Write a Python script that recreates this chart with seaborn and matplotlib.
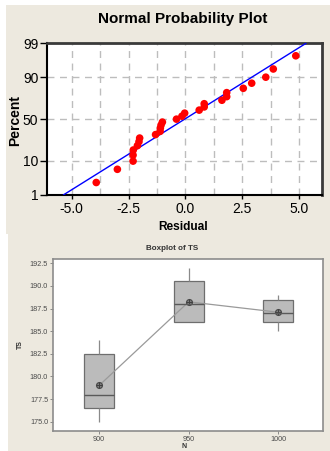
import numpy as np
import pandas as pd
import matplotlib
matplotlib.use("Agg")
import matplotlib.pyplot as plt
from matplotlib.patches import Rectangle
from matplotlib.ticker import FixedLocator, MultipleLocator, FormatStrFormatter
import seaborn as sns
from statistics import NormalDist

# ---------------- data ----------------
residuals = [-3.92, -2.99, -2.30, -2.30, -2.29, -2.11, -2.04, -2.01, -1.31,
             -1.11, -1.10, -1.07, -1.01, -0.39, -0.15, -0.03, 0.61, 0.83,
             0.83, 1.61, 1.82, 1.82, 2.55, 2.92, 3.54, 3.87, 4.86]
percents = [2.6, 6.2, 9.9, 13.5, 17.2, 20.8, 24.5, 28.1, 31.8, 35.4, 39.1,
            42.7, 46.4, 50.0, 53.6, 57.3, 60.9, 64.6, 68.2, 71.9, 75.5, 79.2,
            82.8, 86.5, 90.1, 93.8, 97.4]
fit_x = [-5.37, 5.31]
fit_p = [1, 99]
pct_ticks = [1, 10, 50, 90, 99]
res_ticks = [-5.0, -2.5, 0.0, 2.5, 5.0]

n_levels = ["900", "950", "1000"]
ts_900 = [175.0, 176.0, 176.5, 177.0, 178.0, 179.0, 182.5, 183.0, 184.0]
ts_950 = [186.0, 186.0, 186.0, 187.0, 188.0, 188.25, 190.5, 190.5, 192.0]
ts_1000 = [185.0, 185.5, 186.0, 186.5, 187.0, 187.9, 188.5, 188.5, 189.0]
ts_ticks = [175.0, 177.5, 180.0, 182.5, 185.0, 187.5, 190.0, 192.5]

# ---------------- style ----------------
sns.set_theme(style="white")
plt.rcParams["font.family"] = ["Liberation Sans", "DejaVu Sans"]
NARROW = ["Liberation Sans Narrow", "Liberation Sans", "DejaVu Sans"]
BEIGE = "#EDE9DF"

W, H = 330, 451
fig = plt.figure(figsize=(W / 100, H / 100), dpi=100, facecolor="white")
fig.add_artist(Rectangle((6 / W, (H - 234) / H), 1 - 6 / W, (234 - 5) / H,
                         transform=fig.transFigure, facecolor=BEIGE,
                         edgecolor="none", zorder=-10))
fig.add_artist(Rectangle((8 / W, 0), 1 - 8 / W, (H - 232) / H,
                         transform=fig.transFigure, facecolor=BEIGE,
                         edgecolor="none", zorder=-10))

def ax_rect(l, t, r, b):
    return [l / W, 1 - b / H, (r - l) / W, (b - t) / H]

# ---------------- normal probability plot ----------------
nd = NormalDist()
_ppf = np.vectorize(lambda v: nd.inv_cdf(v / 100.0), otypes=[float])
_cdf = np.vectorize(lambda v: nd.cdf(v) * 100.0, otypes=[float])

def fwd(p):
    p = np.clip(np.asarray(p, dtype=float), 1e-9, 100 - 1e-9)
    return _ppf(p)

def inv(z):
    return _cdf(np.asarray(z, dtype=float))

ax1 = fig.add_axes(ax_rect(46.7, 43.3, 321.7, 195))
ax1.set_facecolor("white")
df1 = pd.DataFrame({"Residual": residuals, "Percent": percents})
dfl = pd.DataFrame({"x": fit_x, "p": fit_p})
sns.lineplot(data=dfl, x="x", y="p", ax=ax1, color="#0000FF", lw=1.0,
             estimator=None, sort=False, zorder=3)
sns.scatterplot(data=df1, x="Residual", y="Percent", ax=ax1, color="#FF0000",
                s=30, edgecolor="none", zorder=4)
ax1.set_yscale("function", functions=(fwd, inv))
ax1.set_ylim(1, 99)
ax1.set_xlim(-6.1, 6.0)
ax1.yaxis.set_major_locator(FixedLocator(pct_ticks))
ax1.yaxis.set_minor_locator(FixedLocator([]))
ax1.set_yticklabels([str(t) for t in pct_ticks])
ax1.xaxis.set_major_locator(FixedLocator(res_ticks))
ax1.xaxis.set_minor_locator(MultipleLocator(1.25))
ax1.set_xticklabels([f"{t:.1f}" for t in res_ticks])
ax1.grid(True, which="both", axis="x", color="#BDBDBD", ls=(0, (5, 4)), lw=1.0)
ax1.grid(True, which="major", axis="y", color="#BDBDBD", ls=(0, (5, 4)), lw=1.0)
ax1.set_axisbelow(True)
ax1.tick_params(axis="y", which="major", direction="out", length=5, width=1,
                color="black", pad=1, labelsize=10, labelcolor="black", left=True)
ax1.tick_params(axis="x", which="major", direction="out", length=3, width=1,
                color="black", pad=2, labelsize=10, labelcolor="black", bottom=True)
ax1.tick_params(axis="x", which="minor", length=0)
for lab in ax1.get_xticklabels() + ax1.get_yticklabels():
    lab.set_family(NARROW)
for s in ["left", "bottom"]:
    ax1.spines[s].set_color("black")
    ax1.spines[s].set_linewidth(1.5)
for s in ["top", "right"]:
    ax1.spines[s].set_color("#3A3A3A")
    ax1.spines[s].set_linewidth(2)
ax1.set_xlabel("")
ax1.set_ylabel("")
fig.text(183 / W, 1 - 19 / H, "Normal Probability Plot", ha="center",
         va="center", fontsize=11, fontweight="bold", color="black")
fig.text(15 / W, 1 - 120 / H, "Percent", ha="center", va="center",
         rotation=90, fontsize=10, fontweight="bold", color="black")
fig.text(183 / W, 1 - 227 / H, "Residual", ha="center", va="center",
         fontsize=8.6, fontweight="bold", color="black")

# ---------------- boxplot ----------------
df2 = pd.DataFrame({
    "N": [n_levels[0]] * len(ts_900) + [n_levels[1]] * len(ts_950)
         + [n_levels[2]] * len(ts_1000),
    "TS": ts_900 + ts_950 + ts_1000,
})
ax2 = fig.add_axes(ax_rect(53, 259.3, 323, 431))
ax2.set_facecolor("white")
sns.boxplot(data=df2, x="N", y="TS", order=n_levels, ax=ax2, width=0.335,
            color="#BBBBBB", linecolor="#6E6E6E", linewidth=0.9,
            showcaps=False, fliersize=0, saturation=1,
            medianprops={"color": "#5A5A5A", "linewidth": 1.0},
            whiskerprops={"color": "#8A8A8A", "linewidth": 0.9})
sns.pointplot(data=df2, x="N", y="TS", order=n_levels, ax=ax2,
              estimator="mean", errorbar=None, color="#9A9A9A",
              markers="o", markersize=4.2, linewidth=0.9,
              markeredgecolor="#4A4A4A", markerfacecolor="#8A8A8A",
              markeredgewidth=0.9)
sns.pointplot(data=df2, x="N", y="TS", order=n_levels, ax=ax2,
              estimator="mean", errorbar=None, color="#404040",
              markers="+", markersize=4.2, linestyle="none",
              markeredgewidth=0.8)
ax2.set_xlim(-0.515, 2.5)
ax2.set_ylim(173.97, 192.95)
ax2.yaxis.set_major_locator(FixedLocator(ts_ticks))
ax2.yaxis.set_major_formatter(FormatStrFormatter("%.1f"))
ax2.tick_params(axis="both", direction="out", length=2, width=0.6,
                color="#7A7A7A", labelsize=5.2, labelcolor="#4A4A4A",
                left=True, bottom=True, pad=1.5)
for s in ax2.spines.values():
    s.set_color("#8C8C8C")
    s.set_linewidth(1.2)
ax2.set_xlabel("")
ax2.set_ylabel("")
fig.text(172 / W, 1 - 248 / H, "Boxplot of TS", ha="center", va="center",
         fontsize=5.8, fontweight="bold", color="#333333")
fig.text(20 / W, 1 - 345 / H, "TS", ha="center", va="center", rotation=90,
         fontsize=5, fontweight="bold", color="#333333")
fig.text(184 / W, 1 - 446 / H, "N", ha="center", va="center",
         fontsize=5, fontweight="bold", color="#333333")

fig.savefig("out.png", dpi=100, facecolor=fig.get_facecolor())
